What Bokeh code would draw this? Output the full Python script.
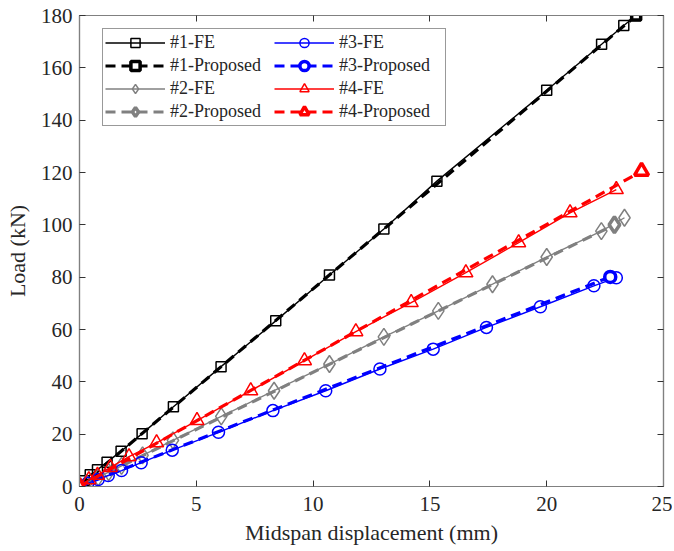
from bokeh.plotting import figure
from bokeh.models import LinearAxis, Legend, LegendItem, Range1d, FixedTicker, CustomJSTickFormatter
from bokeh.embed import file_html
from bokeh.resources import INLINE

# ---------------- data ----------------
x_ticks = [0, 5, 10, 15, 20, 25]
y_ticks = [0, 20, 40, 60, 80, 100, 120, 140, 160, 180]

x1_fe = [0, 0.2, 0.46, 0.77, 1.18, 1.78, 2.68, 4.02, 6.06, 8.4, 10.7, 13.03, 15.3, 20.0, 22.35, 23.3, 23.83]
y1_fe = [0, 2.2, 4.5, 6.4, 9.3, 13.5, 20.2, 30.5, 45.8, 63.3, 80.8, 98.4, 116.7, 151.4, 169.0, 176.2, 180.0]
x1_pr = [0, 23.83]
y1_pr = [0, 180.0]

x2_fe = [0, 0.3, 0.8, 1.25, 1.8, 2.7, 4.0, 6.07, 8.33, 10.7, 13.03, 15.36, 17.68, 20.0, 22.34, 23.33]
y2_fe = [0, 1.3, 3.5, 5.5, 7.9, 11.9, 17.6, 26.8, 36.6, 46.8, 57.2, 67.1, 77.3, 87.7, 97.6, 102.7]
x2_pr = [0, 22.9]
y2_pr = [0, 100.0]

x3_fe = [0, 0.35, 0.8, 1.23, 1.8, 2.64, 3.97, 5.95, 8.28, 10.54, 12.86, 15.14, 17.42, 19.73, 22.02, 22.98]
y3_fe = [0, 1.2, 2.7, 4.2, 6.1, 9.1, 13.9, 20.7, 29.0, 36.6, 44.9, 52.5, 60.8, 68.7, 76.7, 79.8]
x3_pr = [0, 22.72]
y3_pr = [0, 80.1]

x4_fe = [0, 0.4, 0.77, 1.32, 2.12, 3.3, 5.03, 7.33, 9.63, 11.83, 14.2, 16.54, 18.8, 21.0, 22.98]
y4_fe = [0, 2.6, 4.3, 7.3, 11.4, 16.7, 25.2, 36.6, 48.1, 59.2, 70.3, 81.7, 93.2, 104.6, 113.5]
x4_pr = [0, 24.06]
y4_pr = [0, 120.5]

labels = ["#1-FE", "#1-Proposed", "#2-FE", "#2-Proposed",
          "#3-FE", "#3-Proposed", "#4-FE", "#4-Proposed"]

# ---------------- figure ----------------
FONT = "Liberation Serif"
TXT = "#262626"
AX = "#808080"

p = figure(width=672, height=549, output_backend="svg", toolbar_location=None,
           x_range=Range1d(0, 25), y_range=Range1d(0, 180),
           min_border_left=79, min_border_right=9, min_border_top=15, min_border_bottom=63,
           background_fill_color="white", border_fill_color="white")
p.xgrid.visible = False
p.ygrid.visible = False
p.outline_line_color = AX
p.outline_line_width = 1.2

def style_axis(ax, ticks, show_labels=True, standoff=7):
    ax.ticker = FixedTicker(ticks=ticks)
    ax.axis_line_color = AX
    ax.axis_line_width = 1.2
    ax.major_tick_line_color = "#333333"
    ax.major_tick_in = 6
    ax.major_tick_out = 0
    ax.minor_tick_line_color = None
    ax.major_label_text_font = FONT
    ax.major_label_text_color = TXT
    if show_labels:
        ax.major_label_text_font_size = "21px"
        ax.major_label_standoff = standoff
    else:
        ax.formatter = CustomJSTickFormatter(code="return '';")
        ax.major_label_text_font_size = "1px"
        ax.major_label_standoff = 0
    ax.axis_label_text_font = FONT
    ax.axis_label_text_color = TXT
    ax.axis_label_text_font_style = "normal"
    ax.axis_label_text_font_size = "22px"

style_axis(p.xaxis[0], x_ticks, standoff=10)
style_axis(p.yaxis[0], y_ticks, standoff=7)
p.xaxis[0].axis_label = "Midspan displacement (mm)"
p.xaxis[0].axis_label_standoff = 6
p.yaxis[0].axis_label = "Load (kN)"
p.yaxis[0].axis_label_standoff = 8

top = LinearAxis()
style_axis(top, x_ticks, show_labels=False)
p.add_layout(top, "above")
right = LinearAxis()
style_axis(right, y_ticks, show_labels=False)
p.add_layout(right, "right")

DASH = "10 6"
series = [
    (x1_fe, y1_fe, x1_pr, y1_pr, "black", "square", 10, 9),
    (x2_fe, y2_fe, x2_pr, y2_pr, "#808080", "diamond", 17, 16),
    (x3_fe, y3_fe, x3_pr, y3_pr, "#0000ff", "circle", 12, 11),
    (x4_fe, y4_fe, x4_pr, y4_pr, "#ff0000", "triangle", 14, 14),
]

items = {}
for i, (xf, yf, xp, yp, col, mk, s_fe, s_pr) in enumerate(series):
    n = i + 1
    l1 = p.line(xf, yf, line_color=col, line_width=1.4)
    m1 = p.scatter(xf, yf, marker=mk, size=s_fe, line_color=col, line_width=1.5,
                   fill_color="white", fill_alpha=0.0)
    l2 = p.line(xp, yp, line_color=col, line_width=3.2, line_dash=DASH)
    m2 = p.scatter(xp, yp, marker=mk, size=s_pr, line_color=col, line_width=3.5,
                   fill_color="white")
    items[f"#{n}-FE"] = [l1, m1]
    items[f"#{n}-Proposed"] = [l2, m2]

legend = Legend(items=[LegendItem(label=lab, renderers=items[lab]) for lab in labels],
                ncols=2, location=(23, 360))
legend.label_text_font = FONT
legend.label_text_font_size = "18px"
legend.label_text_color = TXT
legend.label_height = 23
legend.glyph_height = 23
legend.glyph_width = 60
legend.label_width = 104
legend.label_standoff = 5
legend.spacing = 0
legend.padding = 2
legend.margin = 0
legend.border_line_color = "#333333"
legend.border_line_width = 1
legend.background_fill_color = "white"
legend.background_fill_alpha = 1.0
p.add_layout(legend, "center")

open("out.html", "w").write(file_html(p, INLINE))
